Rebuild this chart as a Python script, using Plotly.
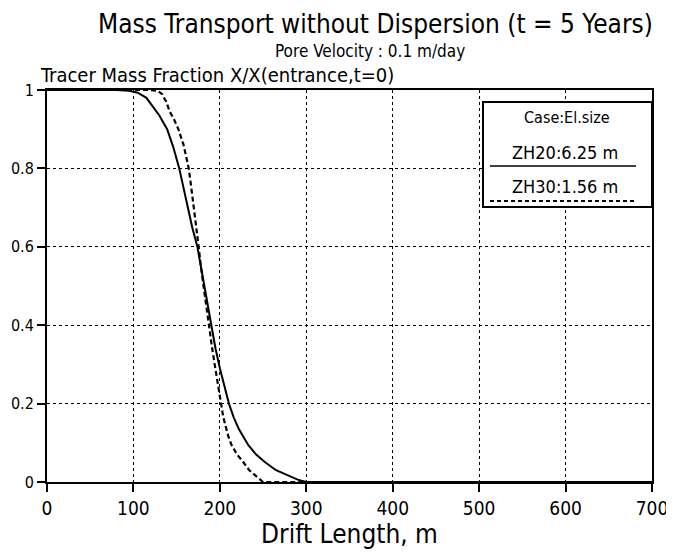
import plotly.graph_objects as go

# Data
x_zh20 = [0, 80, 95, 105, 115, 122, 130, 139, 146, 153, 158, 163, 168, 174, 178, 182, 186, 189.5,
          195, 200, 205, 210.5, 216, 222, 228, 233, 242, 252, 265, 280, 290, 300, 700]
y_zh20 = [1, 1, 0.998, 0.993, 0.98, 0.96, 0.935, 0.90, 0.855, 0.80, 0.75, 0.70, 0.65, 0.60, 0.55,
          0.50, 0.45, 0.40, 0.34, 0.29, 0.245, 0.20, 0.165, 0.135, 0.112, 0.094, 0.07, 0.051, 0.03,
          0.015, 0.006, 0.0, 0]

x_zh30 = [0, 120, 128, 133, 138, 142, 147, 152, 158, 164, 167, 170, 173, 175.5, 178, 181, 184, 187,
          190.5, 194, 197.5, 201, 204, 207, 210, 213.6, 220, 227, 234, 241, 246, 250, 700]
y_zh30 = [1, 1, 0.998, 0.99, 0.97, 0.945, 0.925, 0.90, 0.86, 0.80, 0.75, 0.70, 0.65, 0.60, 0.55,
          0.50, 0.45, 0.40, 0.35, 0.30, 0.25, 0.20, 0.165, 0.14, 0.115, 0.094, 0.07, 0.051, 0.03,
          0.017, 0.008, 0.0, 0]

x_ticks = [0, 100, 200, 300, 400, 500, 600, 700]
y_ticks = [0, 0.2, 0.4, 0.6, 0.8, 1]
y_ticklabels = ["0", "0.2", "0.4", "0.6", "0.8", "1"]

legend_header = "Case:El.size"
series_names = ["ZH20:6.25 m", "ZH30:1.56 m"]

FONT = "Liberation Sans Narrow, DejaVu Sans Condensed, Arial Narrow, sans-serif"

# The page has an 8px body margin, so the figure is made 8px smaller and all
# reference-pixel positions are shifted by -8.
OFF = 8
W, H = 674 - OFF, 553 - OFF
L, R, T, B = 47 - OFF, 22, 90 - OFF, 71
PW, PH = W - L - R, H - T - B


def px(xp):
    return (xp - OFF - L) / PW


def py(yp):
    return (H - B - (yp - OFF)) / PH


fig = go.Figure()
fig.add_trace(go.Scatter(x=x_zh20, y=y_zh20, mode="lines", name=series_names[0],
                         line=dict(color="black", width=2), showlegend=False))
fig.add_trace(go.Scatter(x=x_zh30, y=y_zh30, mode="lines", name=series_names[1],
                         line=dict(color="black", width=2.2, dash="5px,3px"), showlegend=False))

axis_common = dict(showline=True, linecolor="black", linewidth=2, mirror=True,
                   showgrid=True, gridcolor="black", gridwidth=1, griddash="dot",
                   ticks="outside", ticklen=8, tickcolor="black", tickwidth=1.5,
                   zeroline=False)

fig.update_xaxes(range=[0, 700], tickvals=x_ticks,
                 tickfont=dict(family=FONT, size=19, color="black"),
                 title=dict(text="Drift Length, m", font=dict(family=FONT, size=26, color="black"),
                            standoff=0),
                 **axis_common)
fig.update_yaxes(range=[0, 1], tickvals=y_ticks, ticktext=y_ticklabels,
                 tickfont=dict(family=FONT, size=16, color="black"),
                 **axis_common)

shapes = []
# legend box
shapes.append(dict(type="rect", xref="paper", yref="paper",
                   x0=px(483), x1=px(652), y0=py(207), y1=py(102),
                   line=dict(color="black", width=2), fillcolor="white", layer="above"))
shapes.append(dict(type="line", xref="paper", yref="paper",
                   x0=px(490), x1=px(636), y0=py(166), y1=py(166),
                   line=dict(color="black", width=1.5)))
shapes.append(dict(type="line", xref="paper", yref="paper",
                   x0=px(490), x1=px(636), y0=py(201), y1=py(201),
                   line=dict(color="black", width=2, dash="4px,3px")))
fig.update_layout(shapes=shapes)

annotations = [
    dict(text="Mass Transport without Dispersion (t = 5 Years)", xref="paper", yref="paper",
         x=px(655), y=py(24), showarrow=False, xanchor="right", yanchor="middle",
         font=dict(family=FONT, size=26, color="black")),
    dict(text="Pore Velocity : 0.1 m/day", xref="paper", yref="paper",
         x=px(467), y=py(51.5), showarrow=False, xanchor="right", yanchor="middle",
         font=dict(family=FONT, size=17, color="black")),
    dict(text="Tracer Mass Fraction X/X(entrance,t=0)", xref="paper", yref="paper",
         x=px(38), y=py(75), showarrow=False, xanchor="left", yanchor="middle",
         font=dict(family=FONT, size=20, color="black")),
    dict(text=legend_header, xref="paper", yref="paper",
         x=px(567), y=py(118), showarrow=False, xanchor="center", yanchor="middle",
         font=dict(family=FONT, size=16, color="black")),
    dict(text=series_names[0], xref="paper", yref="paper",
         x=px(565), y=py(152), showarrow=False, xanchor="center", yanchor="middle",
         font=dict(family=FONT, size=18, color="black")),
    dict(text=series_names[1], xref="paper", yref="paper",
         x=px(565), y=py(186), showarrow=False, xanchor="center", yanchor="middle",
         font=dict(family=FONT, size=18, color="black")),
]
fig.update_layout(annotations=annotations)

fig.update_layout(width=W, height=H, margin=dict(l=L, r=R, t=T, b=B, autoexpand=False),
                  paper_bgcolor="white", plot_bgcolor="white", showlegend=False,
                  font=dict(family=FONT, color="black"))

fig.write_html("out.html")
